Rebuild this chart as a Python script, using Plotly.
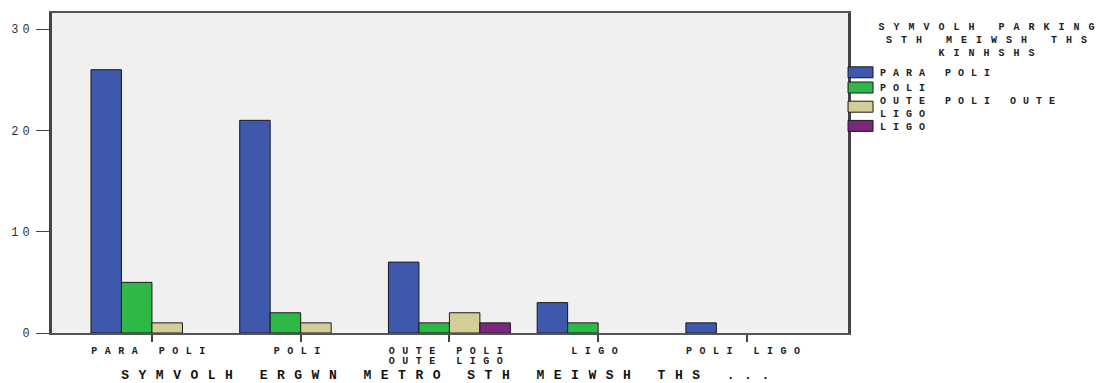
import plotly.graph_objects as go

categories = ["PARA POLI", "POLI", "OUTE POLI<br>OUTE LIGO", "LIGO", "POLI LIGO"]
series_names = ["PARA POLI", "POLI", "OUTE POLI OUTE<br>LIGO", "LIGO"]
vals_para_poli = [26, 21, 7, 3, 1]
vals_poli = [5, 2, 1, 1, 0]
vals_oute = [1, 1, 2, 0, 0]
vals_ligo = [0, 0, 1, 0, 0]
colors = ["#3E58AC", "#2EB848", "#D3CE97", "#79287D"]
y_ticks = [0, 10, 20, 30]
legend_title = "SYMVOLH PARKING<br>STH MEIWSH THS<br>KINHSHS"
x_title = "SYMVOLH ERGWN METRO STH MEIWSH THS ..."

font_family = "Liberation Mono, Courier New, monospace"

fig = go.Figure()
for name, vals, col in zip(series_names, [vals_para_poli, vals_poli, vals_oute, vals_ligo], colors):
    fig.add_trace(go.Bar(
        x=categories, y=[v if v else None for v in vals], name=name,
        marker=dict(color=col, line=dict(color="#1a1a1a", width=1)),
    ))

fig.add_annotation(
    text=legend_title, xref="paper", yref="paper", x=1.18, y=0.978,
    xanchor="center", yanchor="top", showarrow=False, align="center",
    font=dict(family=font_family, size=10, color="#222", weight="bold"),
)

fig.update_layout(
    width=1105, height=383,
    barmode="group", bargap=0.18, bargroupgap=0,
    paper_bgcolor="white", plot_bgcolor="#F0F0F0",
    margin=dict(l=52, r=257, t=13, b=50, autoexpand=False),
    font=dict(family=font_family, size=10, color="#222"),
    showlegend=True,
    legend=dict(
        x=0.99, xanchor="left", y=0.86, yanchor="top",
        bgcolor="rgba(0,0,0,0)",
        font=dict(family=font_family, size=10, color="#222", weight="bold"),
        itemwidth=30,
    ),
    xaxis=dict(
        type="category", range=[-0.672, 4.68], automargin=False,
        showline=True, linecolor="#555", linewidth=2, mirror=True,
        ticks="outside", ticklen=7, tickcolor="#444", tickwidth=2,
        tickfont=dict(family=font_family, size=10, color="#222", weight="bold"),
        title=dict(text=x_title,
                   font=dict(family=font_family, size=13, color="#111", weight="bold"),
                   standoff=11),
        showgrid=False, zeroline=False,
    ),
    yaxis=dict(
        range=[0, 31.6], tickvals=y_ticks, automargin=False,
        showline=True, linecolor="#444", linewidth=3, mirror=True,
        ticks="outside", ticklen=13, tickcolor="#444", tickwidth=1,
        tickfont=dict(family=font_family, size=12, color="#333"),
        showgrid=False, zeroline=False,
    ),
)

post = """
document.body.style.margin='0';
document.body.style.padding='0';
var gd = document.getElementsByClassName('plotly-graph-div')[0];
function spacing(){
  gd.querySelectorAll('.xtick text').forEach(function(t){t.style.letterSpacing='7.5px';});
  gd.querySelectorAll('.xtick text tspan.line').forEach(function(s){
    if(s.getAttribute('dy') && s.getAttribute('dy') !== '0em') s.setAttribute('dy','0.95em');
  });
  gd.querySelectorAll('.ytick text').forEach(function(t){t.style.letterSpacing='4px';});
  gd.querySelectorAll('.xtitle').forEach(function(t){t.style.letterSpacing='9.5px';});
  gd.querySelectorAll('.legend text').forEach(function(t){t.style.letterSpacing='7px';});
  gd.querySelectorAll('.annotation-text').forEach(function(t){t.style.letterSpacing='9px';});
  gd.querySelectorAll('.legend [clip-path], .annotation [clip-path]').forEach(function(e){e.removeAttribute('clip-path');});
  gd.querySelectorAll('.legend .legendpoints path').forEach(function(p){p.setAttribute('d','M13,5.5H-12V-5.5H13Z');});
  var tr = gd.querySelectorAll('.legend .traces');
  var y0 = null;
  tr.forEach(function(g){
    var m = /translate\\(([-\\d.]+),\\s*([-\\d.]+)\\)/.exec(g.getAttribute('transform')||'');
    if(!m) return;
    var x = parseFloat(m[1]), y = parseFloat(m[2]);
    if(y0 === null) y0 = y;
    g.setAttribute('transform','translate('+x+','+(y0+(y-y0)*0.8)+')');
  });
}
spacing();
"""
fig.write_html("out.html", post_script=post, config={"displayModeBar": False})
